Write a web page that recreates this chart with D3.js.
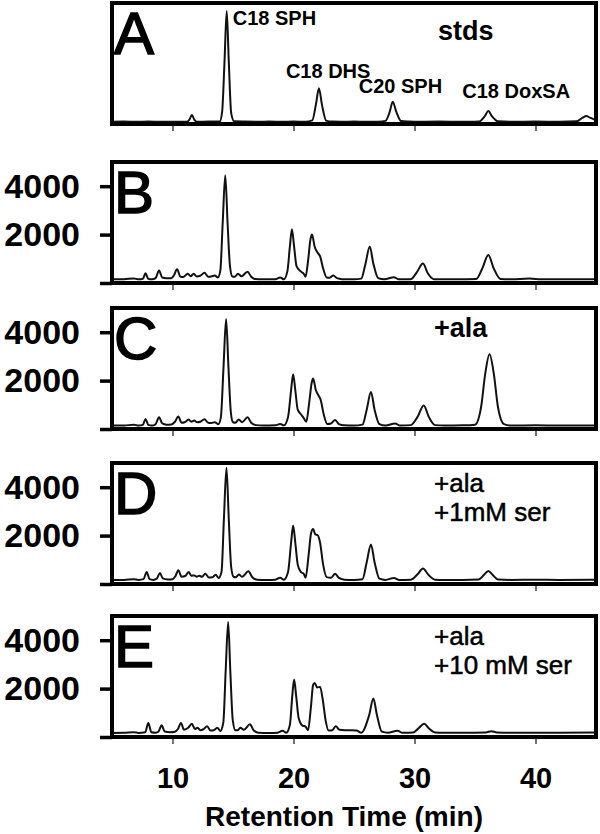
<!DOCTYPE html>
<html>
<head>
<meta charset="utf-8">
<script src="https://cdn.jsdelivr.net/npm/d3@7"></script>
<style>
  body { margin: 0; background: #fff; }
  text { font-family: "Liberation Sans", Arial, sans-serif; }
</style>
</head>
<body>
<svg id="chart" width="600" height="834"></svg>
<script>
// retention time (min), intensity (counts)
var traceA = [[5,95],[6,100],[7,95],[8,100],[9,95],[10,98],[11.2,95],[11.4,180],[11.6,370],[11.8,180],[12,95],[13,100],[13.9,100],[14.1,500],[14.3,2600],[14.48,4670],[14.65,2600],[14.85,450],[15.1,110],[16,100],[17,95],[18,100],[19,95],[20,100],[21,95],[21.55,150],[21.85,800],[22.1,1475],[22.35,800],[22.7,140],[23.2,100],[24,95],[25,100],[26,95],[27,98],[27.6,130],[27.95,500],[28.2,920],[28.5,500],[28.9,120],[29.5,100],[30,95],[32,100],[34,95],[35.3,100],[35.8,320],[36.1,537],[36.4,320],[36.9,110],[38,95],[40,100],[42,95],[43.4,110],[43.9,260],[44.2,330],[44.5,260],[45,150]];

var traceB = [[5,150],[6,160],[6.8,190],[7.2,150],[7.55,170],[7.77,400],[8.0,170],[8.3,150],[8.6,200],[8.89,520],[9.15,230],[9.5,200],[9.9,200],[10.1,300],[10.38,565],[10.65,260],[10.9,250],[11.1,330],[11.27,380],[11.5,280],[11.75,380],[12.0,270],[12.3,300],[12.64,420],[12.95,260],[13.2,270],[13.5,310],[13.75,230],[13.95,500],[14.15,2500],[14.36,4450],[14.55,2500],[14.75,700],[14.95,270],[15.15,260],[15.41,380],[15.7,280],[16.2,466],[16.5,260],[16.8,170],[17.5,150],[18.5,160],[18.9,230],[19.2,150],[19.5,500],[19.7,1500],[19.87,2220],[20.05,1500],[20.25,700],[20.6,480],[20.85,380],[21.0,260],[21.2,900],[21.4,1800],[21.53,2006],[21.75,1500],[22.0,1250],[22.2,1100],[22.45,600],[22.74,230],[23.0,220],[23.28,310],[23.6,200],[24,160],[25,150],[25.6,180],[25.95,800],[26.3,1512],[26.6,800],[27.0,200],[27.5,150],[28.3,240],[28.7,150],[29.7,160],[30.2,450],[30.7,805],[31.1,400],[31.6,160],[32.5,150],[33.5,150],[35.1,170],[35.6,600],[36.1,1160],[36.55,600],[37.1,170],[38,150],[39.5,190],[40.5,150],[42,160],[45,150]];

var traceC = [[5,140],[6,140],[6.8,180],[7.2,140],[7.55,170],[7.77,417],[8.0,170],[8.3,140],[8.6,200],[8.89,487],[9.15,230],[9.5,180],[9.9,190],[10.2,300],[10.48,514],[10.75,260],[11.0,280],[11.34,389],[11.55,300],[11.8,348],[12.05,280],[12.3,300],[12.64,403],[12.95,260],[13.2,250],[13.5,280],[13.8,200],[14.0,500],[14.22,2600],[14.43,4545],[14.62,2600],[14.82,700],[15.0,280],[15.2,260],[15.48,389],[15.75,280],[16.2,487],[16.5,260],[16.9,160],[17.5,140],[18.5,150],[18.9,210],[19.2,150],[19.55,500],[19.8,1600],[19.97,2266],[20.15,1600],[20.35,800],[20.6,620],[20.85,450],[21.05,300],[21.3,1100],[21.5,1900],[21.62,2085],[21.85,1600],[22.05,1400],[22.25,1200],[22.5,600],[22.8,210],[23.1,230],[23.44,375],[23.75,200],[24.2,150],[25,140],[25.7,180],[26.05,800],[26.4,1529],[26.7,800],[27.1,200],[27.6,140],[28.4,230],[28.8,140],[29.7,160],[30.25,500],[30.76,973],[31.2,480],[31.7,160],[32.5,140],[34,150],[35.0,180],[35.5,900],[35.85,2300],[36.2,3086],[36.55,2300],[36.9,900],[37.4,200],[38,140],[40,150],[42,140],[45,140]];

var traceD = [[5,170],[6,170],[6.8,200],[7.2,170],[7.6,200],[7.87,497],[8.1,200],[8.4,170],[8.7,220],[8.96,454],[9.2,230],[9.6,190],[10.0,200],[10.25,330],[10.48,568],[10.75,300],[11.05,330],[11.34,497],[11.55,340],[11.8,355],[12.0,300],[12.2,340],[12.45,300],[12.7,426],[13.0,270],[13.3,280],[13.57,383],[13.8,250],[14.05,500],[14.25,2700],[14.46,4800],[14.65,2700],[14.85,700],[15.05,300],[15.25,280],[15.48,397],[15.75,300],[16.27,525],[16.6,280],[17,180],[17.8,170],[18.5,180],[18.9,260],[19.2,180],[19.55,500],[19.8,1700],[19.97,2414],[20.15,1700],[20.35,800],[20.6,500],[20.85,420],[21.0,260],[21.25,1200],[21.45,2100],[21.62,2272],[21.8,2050],[22.0,2016],[22.2,1700],[22.45,800],[22.74,284],[23.1,260],[23.44,426],[23.75,250],[24.2,180],[25,170],[25.7,200],[26.05,900],[26.4,1633],[26.7,900],[27.1,220],[27.6,170],[28.3,250],[28.7,170],[29.7,180],[30.25,400],[30.7,639],[31.15,380],[31.7,180],[32.5,170],[34,170],[35.3,190],[35.75,380],[36.1,540],[36.45,380],[36.9,190],[38,170],[40,175],[42,170],[45,175]];

var traceE = [[5,170],[6,175],[6.8,200],[7.2,170],[7.75,200],[8.0,580],[8.25,200],[8.6,180],[8.85,230],[9.1,483],[9.35,230],[9.8,200],[10.2,220],[10.45,330],[10.7,580],[10.95,300],[11.3,380],[11.6,552],[11.85,330],[12.07,386],[12.3,280],[12.55,320],[12.86,441],[13.15,270],[13.4,280],[13.7,386],[13.95,250],[14.2,600],[14.4,2800],[14.6,4750],[14.78,2700],[14.98,700],[15.2,280],[15.4,280],[15.6,386],[15.9,300],[16.4,524],[16.7,280],[17.1,180],[18,170],[18.7,180],[19.1,260],[19.4,180],[19.7,500],[19.9,1700],[20.05,2374],[20.22,1700],[20.42,800],[20.75,470],[21.0,430],[21.2,280],[21.45,1300],[21.62,2150],[21.75,2236],[21.95,2050],[22.2,2070],[22.4,1600],[22.65,700],[22.9,270],[23.2,280],[23.5,441],[23.8,300],[24.3,280],[25.2,270],[25.6,180],[26.25,900],[26.6,1587],[26.9,900],[27.3,220],[27.8,175],[28.6,260],[29.0,175],[29.9,190],[30.35,370],[30.8,552],[31.2,350],[31.7,190],[32.5,175],[34,175],[35.9,190],[36.35,240],[36.8,190],[38,175],[40,180],[42,175],[45,185]];

var panelLetters = ["A", "B", "C", "D", "E"];
var panelNotes = [[], [], ["+ala"], ["+ala", "+1mM ser"], ["+ala", "+10 mM ser"]];
var standardNames = ["C18 SPH", "C18 DHS", "C20 SPH", "C18 DoxSA"];
var standardTimes = [14.48, 22.1, 28.2, 36.1];
var xTicks = [10, 20, 30, 40];
var yTicks = [0, 2000, 4000];
var traces = [traceA, traceB, traceC, traceD, traceE];

var svg = d3.select("#chart");
var left = 112, right = 596, panelH = 121;
var tops = [3, 162, 308, 463, 616];

var x = d3.scaleLinear().domain([5, 45]).range([left, right]);

traces.forEach(function (data, i) {
	var top = tops[i];
	var y = d3.scaleLinear().domain([0, 5000]).range([top + panelH, top]);
	var g = svg.append("g");

	g.append("clipPath").attr("id", "clip" + i)
		.append("rect").attr("x", left).attr("y", top).attr("width", right - left).attr("height", panelH);

	var line = d3.line()
		.x(function (d) { return x(d[0]); })
		.y(function (d) { return y(d[1]); })
		.curve(d3.curveMonotoneX);

	g.append("path")
		.datum(data)
		.attr("clip-path", "url(#clip" + i + ")")
		.attr("fill", "none")
		.attr("stroke", "#111")
		.attr("stroke-width", 2)
		.attr("d", line);

	// x ticks under each panel
	var xa = g.append("g")
		.attr("transform", "translate(0," + (top + panelH) + ")")
		.call(d3.axisBottom(x).tickValues(xTicks).tickSize(7).tickPadding(23)
			.tickFormat(i == 4 ? d3.format("d") : ""));
	xa.select(".domain").remove();
	xa.selectAll("line").attr("stroke", "#444").attr("stroke-width", 1.5);
	xa.selectAll("text").attr("fill", "#000").style("font-size", "29px").style("font-weight", "bold");

	// y axis for B-E
	if (i > 0) {
		var ya = g.append("g")
			.attr("transform", "translate(" + left + ",0)")
			.call(d3.axisLeft(y).tickValues(yTicks).tickSize(12).tickPadding(20)
				.tickFormat(function (d) { return d ? d : ""; }));
		ya.select(".domain").remove();
		ya.selectAll("line").attr("stroke", "#000").attr("stroke-width", 3.5);
		ya.selectAll("text").attr("fill", "#000").style("font-size", "34px").style("font-weight", "bold");
	}

	// frame
	g.append("rect")
		.attr("x", left).attr("y", top)
		.attr("width", right - left).attr("height", panelH)
		.attr("fill", "none").attr("stroke", "#000").attr("stroke-width", 4);

	g.append("text")
		.attr("x", 114).attr("y", top + 51)
		.attr("stroke", "#000").attr("stroke-width", 1.5)
		.style("font-size", "60px")
		.text(panelLetters[i]);

	// treatment note, lines stacked in one text
	if (panelNotes[i].length) {
		g.append("text")
			.attr("y", top + 29)
			.attr("stroke", "#000").attr("stroke-width", i == 2 ? 0 : 0.5)
			.style("font-size", i == 2 ? "27px" : "26px")
			.style("font-weight", i == 2 ? "bold" : "normal")
			.selectAll("tspan")
			.data(panelNotes[i]).enter()
			.append("tspan")
			.attr("x", 434)
			.attr("dy", function (d, k) { return k ? 29 : 0; })
			.text(function (d) { return d; });
	}
});

// standards labels in panel A
var labelOffsets = [[6, 25], [-33, 78], [-34, 93], [-26, 98]];
svg.selectAll(".std")
	.data(standardNames).enter()
	.append("text")
	.attr("x", function (d, k) { return x(standardTimes[k]) + labelOffsets[k][0]; })
	.attr("y", function (d, k) { return labelOffsets[k][1]; })
	.style("font-size", "20px").style("font-weight", "bold")
	.text(function (d) { return d; });

svg.append("text")
	.attr("x", 438).attr("y", 40)
	.style("font-size", "27px").style("font-weight", "bold")
	.text("stds");

svg.append("text")
	.attr("x", 344).attr("y", 826)
	.attr("text-anchor", "middle")
	.style("font-size", "28px").style("font-weight", "bold")
	.text("Retention Time (min)");
</script>
</body>
</html>
